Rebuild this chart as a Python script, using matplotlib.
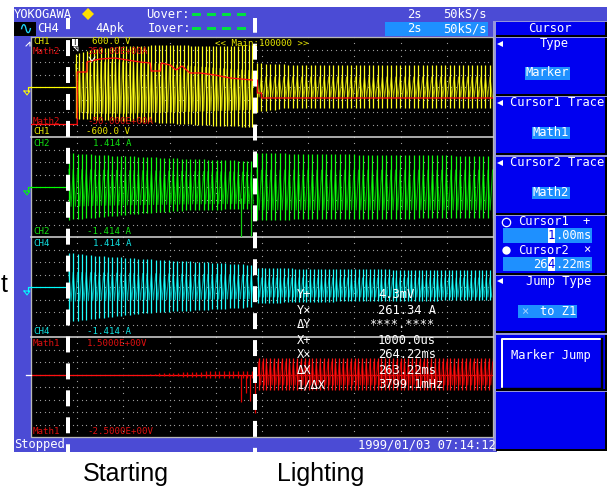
import numpy as np
import matplotlib
matplotlib.use("Agg")
import matplotlib.pyplot as plt
from matplotlib.patches import Rectangle

plt.rcParams['lines.scale_dashes'] = False
MONO = 'DejaVu Sans Mono'
SANS = 'Liberation Sans'

# ======================= data =======================
N_DIV = 10                      # horizontal divisions on screen (time axis)

# --- CH1 lamp voltage (V), screen range -600..600 V
ch1_range = (-600.0, 600.0)
ch1_pre_t       = [0.97, 1.30, 2.00, 3.00, 4.00, 4.83]
ch1_pre_peak_hi = [390, 450, 495, 500, 495, 500]
ch1_pre_peak_lo = [-375, -390, -405, -435, -465, -480]
ch1_pre_body_hi = [270, 300, 300, 270, 225, 195]
ch1_pre_body_lo = [-300, -315, -315, -300, -285, -270]
ch1_post_t       = [4.89, 5.50, 7.00, 8.50, 10.0]
ch1_post_peak_hi = [285, 270, 262, 262, 262]
ch1_post_peak_lo = [-300, -255, -255, -255, -255]
ch1_post_body_hi = [120, 120, 120, 120, 120]
ch1_post_body_lo = [-120, -120, -120, -120, -120]
ch1_period = (0.078, 0.097)

# --- Math2 (A), screen range -50..350 A
math2_range = (-50.0, 350.0)
math2_t = [0, 1.0, 1.0, 1.21, 1.21, 1.49, 1.82, 2.08, 2.36, 2.58, 2.60, 2.80, 2.82,
           3.01, 3.14, 3.27, 3.44, 3.66, 3.98, 4.31, 4.78, 4.90, 4.90, 4.99, 4.99, 10.0]
math2_a = [0, 0, 210, 210, 250, 262, 266, 258, 250, 246, 214, 214, 246,
           238, 218, 234, 206, 206, 198, 186, 178, 178, 126, 126, 106, 106]

# --- CH2 current (A), screen range -1.414..1.414 A
ch2_range = (-1.414, 1.414)
ch2_pre_t       = [0.82, 1.49, 2.49, 3.51, 4.83]
ch2_pre_peak_hi = [0.96, 0.905, 0.85, 0.79, 0.735]
ch2_pre_peak_lo = [-0.93, -0.85, -0.735, -0.65, -0.62]
ch2_pre_body_hi = [0.50, 0.48, 0.46, 0.44, 0.42]
ch2_pre_body_lo = [-0.55, -0.52, -0.50, -0.48, -0.47]
ch2_post_t       = [4.89, 7.0, 10.0]
ch2_post_peak_hi = [0.96, 0.92, 0.88]
ch2_post_peak_lo = [-0.93, -0.90, -0.88]
ch2_post_body_hi = [0.48, 0.48, 0.48]
ch2_post_body_lo = [-0.65, -0.65, -0.65]
ch2_glitch_t  = [4.54, 4.76]
ch2_glitch_lo = [-1.405, -1.38]
ch2_period = (0.094, 0.100)

# --- CH4 current (A), screen range -1.414..1.414 A
ch4_range = (-1.414, 1.414)
ch4_pre_t       = [0.82, 1.49, 2.49, 3.66, 4.83]
ch4_pre_peak_hi = [0.96, 0.877, 0.79, 0.707, 0.62]
ch4_pre_peak_lo = [-0.99, -0.877, -0.735, -0.65, -0.566]
ch4_pre_body_hi = [0.42, 0.40, 0.38, 0.36, 0.34]
ch4_pre_body_lo = [-0.40, -0.38, -0.37, -0.35, -0.33]
ch4_post_t       = [4.91, 7.0, 10.0]
ch4_post_peak_hi = [0.537, 0.50, 0.48]
ch4_post_peak_lo = [-0.45, -0.40, -0.37]
ch4_post_body_hi = [0.255, 0.255, 0.255]
ch4_post_body_lo = [-0.283, -0.283, -0.283]
ch4_period = (0.094, 0.081)

# --- Math1 (V), screen range -2.5..1.5 V
math1_range = (-2.5, 1.5)
math1_ripple_t   = [2.58, 3.0, 3.5, 4.0, 4.8]
math1_ripple_amp = [0.03, 0.06, 0.10, 0.14, 0.16]
math1_glitch_t   = [4.55, 4.65, 4.74, 4.85, 4.91]
math1_glitch_v   = [-1.09, -0.74, -1.06, -1.54, 0.50]
math1_post_t       = [4.93, 7.0, 10.0]
math1_post_peak_hi = [0.66, 0.66, 0.66]
math1_post_peak_lo = [-0.62, -0.62, -0.62]
math1_post_body_hi = [0.50, 0.50, 0.50]
math1_post_body_lo = [-0.42, -0.42, -0.42]
math1_period = (0.10, 0.083)

# --- cursor measurement read-out
meas_labels = ["Y+", "Y×", "ΔY", "X+", "X×", "ΔX", "1/ΔX"]
meas_values = ["4.3mV", "261.34 A", "****.****", "1000.0us", "264.22ms", "263.22ms", "3799.1mHz"]

# ======================= figure =======================
W, H = 613, 487
fig = plt.figure(figsize=(W / 100, H / 100), dpi=100)
fig.patch.set_facecolor('white')
PX = 0.72  # points per pixel

def pix_axes(z):
    a = fig.add_axes([0, 0, 1, 1], zorder=z)
    a.set_xlim(0, W); a.set_ylim(H, 0)
    a.axis('off'); a.patch.set_alpha(0)
    return a

bg = pix_axes(0)

def rect(ax, x0, y0, x1, y1, c, z=1, **kw):
    ax.add_patch(Rectangle((x0, y0), x1 - x0, y1 - y0, facecolor=c, edgecolor='none', zorder=z, **kw))

def txt(ax, x, y, s, c='white', size=8.7, ha='left', va='center', fam=MONO, z=5, **kw):
    ax.text(x, y, s, color=c, fontsize=size, ha=ha, va=va, family=fam, zorder=z, **kw)

HDR = '#4b4bd5'
BLUE = '#0000f0'
HIL = '#1e90ff'
LAV = '#9494dc'

# header, side strip, status bar
rect(bg, 14, 7, 607, 37, HDR)
rect(bg, 14, 37, 31, 437, HDR)
rect(bg, 14, 437, 497, 452, HDR)
rect(bg, 31, 37, 493, 437, 'black')
rect(bg, 385, 21.5, 488, 36, HIL, z=2)
# plot frame and panel separators
bg.plot([31, 493, 493, 31, 31], [37, 37, 437, 437, 37], color='#b8b8b8', lw=1.3 * PX, zorder=3)
for i in (1, 2, 3):
    bg.plot([31, 493], [37 + 100 * i] * 2, color='#d0d0d0', lw=1.6 * PX, zorder=3)

# dotted graticule
for i in range(4):
    top = 37 + 100 * i
    for r in range(1, 8):
        xs = np.arange(31, 493, 4.62)
        bg.plot(xs, np.full_like(xs, top + 12.5 * r), ls='none', marker='s', ms=0.8, mew=0,
                color='#9a9a9a', zorder=2)
for k in range(1, 10):
    ys = np.arange(37, 437, 6.25)
    bg.plot(np.full_like(ys, 31 + 46.2 * k), ys, ls='none', marker='s', ms=0.8, mew=0,
            color='#9a9a9a', zorder=2)

# right menu panel
rect(bg, 493, 21, 607, 451, LAV)
sections = [(21.5, 36.5), (37.5, 95.5), (97, 155), (156.5, 214.5), (216, 274.5),
            (276, 333), (334.5, 390.5), (392, 451)]
for y0, y1 in sections:
    rect(bg, 496, y0, 607, y1, BLUE, z=2)
    rect(bg, 604.5, y0, 607, y1, 'black', z=3)
    rect(bg, 496, y1 - 2, 607, y1, 'black', z=3)

# ======================= channel axes =======================
def chan_ax(i, rng, z):
    top = 37 + 100 * i
    a = fig.add_axes([31 / W, (H - top - 100) / H, 462 / W, 100 / H], zorder=z)
    a.set_xlim(0, N_DIV); a.set_ylim(*rng)
    a.axis('off'); a.patch.set_alpha(0)
    return a

def osc(ax, t_env, hi, lo, bhi, blo, period, c_peak, c_body, lw=0.9):
    t0, t1 = t_env[0], t_env[-1]
    th = np.arange(t0, t1, period / 2)
    bh = np.interp(th, t_env, bhi)
    bl = np.interp(th, t_env, blo)
    zz = np.where(np.arange(len(th)) % 2 == 0, bh, bl)
    ax.plot(th, zz, color=c_body, lw=lw * PX * 1.2)
    tk = np.arange(t0, t1, period)
    ax.vlines(tk, np.interp(tk, t_env, lo), np.interp(tk, t_env, hi), color=c_peak, lw=lw)

a1 = chan_ax(0, ch1_range, 1)
a1.plot([0, ch1_pre_t[0]], [0, 0], color='#ffff00', lw=1.2 * PX)
osc(a1, ch1_pre_t, ch1_pre_peak_hi, ch1_pre_peak_lo, ch1_pre_body_hi, ch1_pre_body_lo,
    ch1_period[0], '#ffff20', '#a6a600')
osc(a1, ch1_post_t, ch1_post_peak_hi, ch1_post_peak_lo, ch1_post_body_hi, ch1_post_body_lo,
    ch1_period[1], '#ffff20', '#a6a600')
a1m = chan_ax(0, math2_range, 2)
a1m.plot(math2_t, math2_a, color='#ff1010', lw=1.3 * PX)

a2 = chan_ax(1, ch2_range, 1)
a2.plot([0, ch2_pre_t[0]], [0, 0], color='#00ff00', lw=1.2 * PX)
osc(a2, ch2_pre_t, ch2_pre_peak_hi, ch2_pre_peak_lo, ch2_pre_body_hi, ch2_pre_body_lo,
    ch2_period[0], '#10ff10', '#00a800')
osc(a2, ch2_post_t, ch2_post_peak_hi, ch2_post_peak_lo, ch2_post_body_hi, ch2_post_body_lo,
    ch2_period[1], '#10ff10', '#00a800')
a2.vlines(ch2_glitch_t, -0.3, ch2_glitch_lo, color='#10d010', lw=0.9)

a3 = chan_ax(2, ch4_range, 1)
a3.plot([0, ch4_pre_t[0]], [0, 0], color='#00ffff', lw=1.2 * PX)
osc(a3, ch4_pre_t, ch4_pre_peak_hi, ch4_pre_peak_lo, ch4_pre_body_hi, ch4_pre_body_lo,
    ch4_period[0], '#20ffff', '#00a0a0')
osc(a3, ch4_post_t, ch4_post_peak_hi, ch4_post_peak_lo, ch4_post_body_hi, ch4_post_body_lo,
    ch4_period[1], '#20ffff', '#00a0a0')

a4 = chan_ax(3, math1_range, 1)
a4.plot([0, N_DIV], [0, 0], color='#ff1010', lw=1.3 * PX)
tr = np.arange(math1_ripple_t[0], math1_ripple_t[-1], math1_period[0])
amp = np.interp(tr, math1_ripple_t, math1_ripple_amp)
a4.vlines(tr, -amp, amp, color='#e00000', lw=0.9)
a4.vlines(math1_glitch_t, 0, math1_glitch_v, color='#e00000', lw=0.9)
osc(a4, math1_post_t, math1_post_peak_hi, math1_post_peak_lo, math1_post_body_hi, math1_post_body_lo,
    math1_period[1], '#ff1010', '#b00000')

# ======================= overlay =======================
ov = pix_axes(10)

# ground markers on left strip
for yc, c in [(87, '#ffff00'), (187, '#00ff00'), (287, '#00ffff')]:
    ov.plot([31, 28, 28], [yc, yc, yc + 4], color=c, lw=1.2 * PX)
    ov.plot([24, 30, 27, 24], [yc + 4, yc + 4, yc + 8, yc + 4], color=c, lw=1.0 * PX)
ov.plot([26, 31], [374.5, 374.5], color='white', lw=1.3 * PX)
ov.plot([26, 30, 30], [46, 42, 46], color='white', lw=1 * PX)

# header texts
txt(bg, 14, 14, "YOKOGAWA", z=4)
bg.plot([88], [13.5], marker='D', ms=6, color='#ffe000', mew=0, zorder=4)
txt(bg, 146.5, 14, "Uover:", z=4)
txt(bg, 147.5, 28.5, "Iover:", z=4)
for yy in (14.3, 28.3):
    for x0 in (192, 207, 222, 237):
        rect(bg, x0, yy - 1.8, x0 + 8.5, yy + 1.8, '#00e040', z=4)
rect(bg, 14, 21.5, 36, 35.5, 'black', z=3)
txt(bg, 25, 29, "∿", c='#20d8ff', size=12, ha='center', fam='DejaVu Sans', z=4)
txt(bg, 37, 28.5, "CH4", z=4)
txt(bg, 95, 28.5, "4Apk", z=4)
for yy in (14, 28.5):
    txt(bg, 407, yy, "2s", z=4)
    txt(bg, 443, yy, "50kS/s", z=4)

# right menu texts
txt(bg, 550, 29, "Cursor", ha='center', z=4)
menu_items = [(44, "Type", 554), (102.7, "Cursor1 Trace", 557.5), (162.7, "Cursor2 Trace", 557.5),
              (281, "Jump Type", 558.5)]
for yy, s, xc in menu_items:
    bg.plot([499.5], [yy], marker='<', ms=4.5, color='white', mew=0, zorder=4)
    txt(bg, xc, yy, s, ha='center', z=4)
for (x0, x1, y0, y1, s) in [(525, 570, 66.5, 79.5, "Marker"), (531.5, 570, 126.5, 138.5, "Math1"),
                            (531.5, 570, 186.5, 198.5, "Math2")]:
    rect(bg, x0, y0, x1, y1, HIL, z=3)
    txt(bg, (x0 + x1) / 2, (y0 + y1) / 2, s, ha='center', z=4)
bg.plot([505.7], [221.7], marker='o', ms=6, mfc='none', mec='white', mew=0.9, zorder=4)
txt(bg, 518, 221.7, "Cursor1", z=4)
txt(bg, 586.5, 221.7, "+", ha='center', z=4)
bg.plot([505.7], [250], marker='o', ms=6, color='white', mew=0, zorder=4)
txt(bg, 518, 250, "Cursor2", z=4)
txt(bg, 586.5, 250, "×", ha='center', z=4)
# cursor value fields: digit under edit shown inverted (white block, blue digit)
rect(bg, 503, 228, 592, 242.5, HIL, z=3)
rect(bg, 547.5, 228, 554.5, 242.5, 'white', z=3.5)
txt(bg, 547.8, 235.5, "1", c=BLUE, z=4.5)
txt(bg, 554.9, 235.5, ".00ms", z=4)
rect(bg, 503, 257, 592, 271, HIL, z=3)
rect(bg, 547.5, 257, 554.5, 271, 'white', z=3.5)
txt(bg, 547.6, 264.3, "26", ha='right', z=4)
txt(bg, 547.8, 264.3, "4", c=BLUE, z=4.5)
txt(bg, 554.9, 264.3, ".22ms", z=4)
rect(bg, 518, 305, 577, 318.3, HIL, z=3)
txt(bg, 525, 311.7, "×", c='#a0d0ff', ha='center', z=4)
txt(bg, 540, 311.7, "to Z1", z=4)
# Marker Jump button bevel
bg.plot([501.5, 501.5, 601.5], [388.5, 338.5, 338.5], color='white', lw=2 * PX, zorder=4)
bg.plot([501.5, 601.5, 601.5], [388.5, 388.5, 338.5], color='black', lw=2.4 * PX, zorder=4)
txt(bg, 551, 355, "Marker Jump", ha='center', z=5)

# status bar
txt(bg, 14, 444.5, "Stopped", z=4)
txt(bg, 496, 444.5, "1999/01/03 07:14:12", ha='right', z=4)

# channel scale labels
SM = 6.6
YEL, RED, GRN, CYN = '#e8e800', '#e01010', '#10e010', '#10e0e0'
labels = [
    (33, 42, "CH1", YEL), (92, 42, "600.0 V", YEL),
    (33, 52, "Math2", RED), (87, 52, "350.00E+00A", RED),
    (33, 121, "Math2", RED), (87, 121, "-50.000E+00A", RED),
    (33, 131, "CH1", YEL), (86, 131, "-600.0 V", YEL),
    (33, 143, "CH2", GRN), (93, 143, "1.414 A", GRN),
    (33, 231, "CH2", GRN), (87, 231, "-1.414 A", GRN),
    (33, 243, "CH4", CYN), (93, 243, "1.414 A", CYN),
    (33, 331, "CH4", CYN), (87, 331, "-1.414 A", CYN),
    (33, 343, "Math1", RED), (87, 343, "1.5000E+00V", RED),
    (33, 431, "Math1", RED), (87, 431, "-2.5000E+00V", RED),
]
for x, y, s, c in labels:
    txt(ov, x, y, s, c=c, size=SM)
txt(ov, 215, 43, "<< Main:100000 >>", c=YEL, size=SM)
# trigger mark and cursor mark
rect(ov, 72, 39, 77.5, 46, 'white', z=5)
txt(ov, 74.7, 42.5, "T", c='black', size=5.5, ha='center', z=6)
ov.plot([74, 78, 78, 74], [47, 47, 51, 47], color='white', lw=0.8 * PX)
ov.plot([89, 92, 95], [57, 61, 57], color='white', lw=0.9 * PX)

# cursor measurement read-out
for k, (lab, val) in enumerate(zip(meas_labels, meas_values)):
    yy = 295 + 15 * k
    txt(ov, 297, yy, lab)
    txt(ov, 369 if val.startswith('*') else 378, yy, val)

# annotation dashed lines and captions
ov.plot([68, 68], [18, 470], color='white', lw=4 * PX, linestyle=(3.5, (11.5, 7.9)))
ov.plot([254.5, 254.5], [18, 470], color='white', lw=4 * PX, linestyle=(0.9, (11.5, 7.9)))
txt(ov, 126, 481, "Starting", c='black', size=18, ha='center', va='baseline', fam=SANS)
txt(ov, 321, 481, "Lighting", c='black', size=18, ha='center', va='baseline', fam=SANS)
txt(ov, 1, 292, "t", c='black', size=18, ha='left', va='baseline', fam=SANS)

fig.savefig("out.png", dpi=100, facecolor='white')
